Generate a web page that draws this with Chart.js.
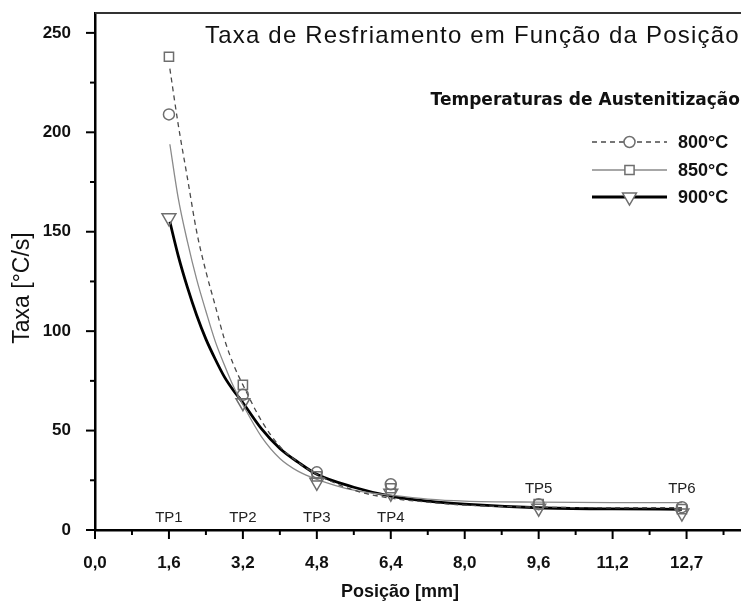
<!DOCTYPE html>
<html>
<head>
<meta charset="utf-8">
<script src="https://cdn.jsdelivr.net/npm/chart.js@4.4.0/dist/chart.umd.min.js"></script>
<style>
  html, body { margin: 0; padding: 0; background: #fff; overflow: hidden; }
  #wrap { width: 770px; height: 605px; }
</style>
</head>
<body>
<div id="wrap"><canvas id="taxaChart" width="770" height="605"></canvas></div>
<script>
// measured points (posição em mm, taxa em °C/s)
const positions = [1.6, 3.2, 4.8, 6.4, 9.6, 12.7];
const tpLabels = ['TP1', 'TP2', 'TP3', 'TP4', 'TP5', 'TP6'];
const tpLabelY = [6, 6, 6, 6, 20.5, 20.5];
const taxa800 = [209, 68, 29, 23, 13, 11.5];
const taxa850 = [238, 73, 27, 21, 13, 10.5];
const taxa900 = [157, 64, 24, 18.5, 11, 8.5];

// fitted curves
const fitX = [1.62, 1.8, 2.0, 2.2, 2.4, 2.6, 2.8, 3.0, 3.2, 3.6, 4.0, 4.4, 4.8, 5.6, 6.4, 7.2, 8.0, 9.6, 11.2, 12.7];
const fit800 = [232, 204, 177, 150, 130, 113, 96, 83, 73, 55, 42, 34, 28, 20, 16, 14, 12.5, 11.5, 11.2, 11.2];
const fit850 = [194, 167, 145, 126, 110, 95, 83, 72, 63, 47, 36, 29.5, 25.5, 20, 17.5, 15.5, 14.5, 14, 13.8, 13.8];
const fit900 = [155, 138, 122, 108, 96, 86, 77, 70, 64, 51, 41, 34, 28, 21.5, 17, 14.5, 13, 11.2, 10.6, 10.4];

const xTickLabels = ['0,0', '1,6', '3,2', '4,8', '6,4', '8,0', '9,6', '11,2', '12,7'];
const seriesNames = ['800°C', '850°C', '900°C'];

const markerColor = '#6e6e6e';

function toPoints(xs, ys) {
    return xs.map((x, i) => ({ x: x, y: ys[i] }));
}

const series = [
    { name: seriesNames[0], values: taxa800, fit: fit800, pointStyle: 'circle', radius: 5.5, rotation: 0,
      lineColor: '#4a4a4a', lineWidth: 1.3, dash: [5, 4] },
    { name: seriesNames[1], values: taxa850, fit: fit850, pointStyle: 'rect', radius: 6.5, rotation: 0,
      lineColor: '#8a8a8a', lineWidth: 1.3, dash: [] },
    { name: seriesNames[2], values: taxa900, fit: fit900, pointStyle: 'triangle', radius: 8, rotation: 180,
      lineColor: '#000', lineWidth: 2.8, dash: [] }
];

const datasets = [];
series.forEach(s => {
    datasets.push({
        label: s.name,
        type: 'scatter',
        data: toPoints(positions, s.values),
        showLine: false,
        pointStyle: s.pointStyle,
        pointRadius: s.radius,
        pointRotation: s.rotation,
        pointBorderColor: markerColor,
        pointBackgroundColor: 'rgba(0,0,0,0)',
        pointBorderWidth: 1.5,
        order: 0
    });
    datasets.push({
        label: s.name + ' ajuste',
        type: 'line',
        data: toPoints(fitX, s.fit),
        borderColor: s.lineColor,
        borderWidth: s.lineWidth,
        borderDash: s.dash,
        pointRadius: 0,
        cubicInterpolationMode: 'monotone',
        fill: false,
        order: 1
    });
});

const decorPlugin = {
    id: 'decor',
    afterDraw(chart) {
        const { ctx, chartArea } = chart;
        const xs = chart.scales.x;
        const ys = chart.scales.y;
        ctx.save();

        // top frame line
        ctx.strokeStyle = '#333';
        ctx.lineWidth = 2;
        ctx.beginPath();
        ctx.moveTo(chartArea.left, chartArea.top);
        ctx.lineTo(chartArea.right, chartArea.top);
        ctx.stroke();

        // tick marks, major and minor
        ctx.strokeStyle = '#000';
        ctx.lineWidth = 2;
        xs.ticks.forEach((t, i) => {
            const px = xs.getPixelForValue(t.value);
            const len = i % 2 === 0 ? 9 : 5;
            ctx.beginPath();
            ctx.moveTo(px, chartArea.bottom);
            ctx.lineTo(px, chartArea.bottom + len);
            ctx.stroke();
        });
        ys.ticks.forEach(t => {
            if (t.value % 25 !== 0) return;
            const py = ys.getPixelForValue(t.value);
            const len = t.value % 50 === 0 ? 9 : 5;
            ctx.beginPath();
            ctx.moveTo(chartArea.left, py);
            ctx.lineTo(chartArea.left - len, py);
            ctx.stroke();
        });

        // title inside plot
        ctx.save();
        ctx.fillStyle = '#111';
        ctx.textBaseline = 'alphabetic';
        ctx.textAlign = 'left';
        ctx.font = '24px Arial, sans-serif';
        ctx.letterSpacing = '1.2px';
        ctx.fillText('Taxa de Resfriamento em Função da Posição', 205, 43);
        ctx.restore();

        // legend
        ctx.fillStyle = '#111';
        ctx.textBaseline = 'middle';
        ctx.textAlign = 'right';
        ctx.font = 'bold 17px "DejaVu Sans", Arial, sans-serif';
        ctx.fillText('Temperaturas de Austenitização', 740, 101);

        const rowY = [142, 170, 197];
        series.forEach((s, i) => {
            const y = rowY[i];
            ctx.save();
            ctx.strokeStyle = s.lineColor;
            ctx.lineWidth = s.lineWidth;
            ctx.setLineDash(s.dash);
            ctx.beginPath();
            ctx.moveTo(592, y);
            ctx.lineTo(667, y);
            ctx.stroke();
            ctx.restore();
            ctx.save();
            ctx.fillStyle = '#fff';
            ctx.strokeStyle = markerColor;
            ctx.lineWidth = 1.5;
            Chart.helpers.drawPoint(ctx, {
                pointStyle: s.pointStyle,
                radius: s.radius,
                rotation: s.rotation,
                borderWidth: 1.5
            }, 629.5, y);
            ctx.restore();
            ctx.fillStyle = '#111';
            ctx.textAlign = 'left';
            ctx.font = 'bold 18px Arial, sans-serif';
            ctx.fillText(s.name, 678, y + 1);
        });

        // TP labels
        ctx.font = '15px Arial, sans-serif';
        ctx.fillStyle = '#222';
        ctx.textAlign = 'center';
        positions.forEach((p, i) => {
            ctx.fillText(tpLabels[i], xs.getPixelForValue(p), ys.getPixelForValue(tpLabelY[i]));
        });

        // axis titles
        ctx.fillStyle = '#111';
        ctx.font = 'bold 18px Arial, sans-serif';
        ctx.fillText('Posição [mm]', 400, 592);
        ctx.translate(23, 288);
        ctx.rotate(-Math.PI / 2);
        ctx.font = '23px Arial, sans-serif';
        ctx.fillText('Taxa [°C/s]', 0, 0);

        ctx.restore();
    }
};

const ctx = document.getElementById('taxaChart');
new Chart(ctx, {
    data: { datasets: datasets },
    options: {
        responsive: false,
        animation: false,
        devicePixelRatio: 1,
        layout: { padding: { top: 13, right: 8, left: 0, bottom: 0 } },
        plugins: {
            legend: { display: false },
            tooltip: { enabled: false }
        },
        scales: {
            x: {
                type: 'linear',
                min: 0,
                max: 14.4,
                afterFit: scale => { scale.height = 75; scale.paddingRight = 0; scale.paddingLeft = 0; },
                grid: { display: false },
                border: { display: true, color: '#000', width: 2.5 },
                ticks: {
                    stepSize: 0.8,
                    padding: 15,
                    maxRotation: 0,
                    autoSkip: false,
                    color: '#111',
                    font: { family: 'Arial, sans-serif', size: 17, weight: 'bold' },
                    callback: function(value, index) {
                        if (index % 2 !== 0) return '';
                        return xTickLabels[index / 2] || '';
                    }
                }
            },
            y: {
                min: 0,
                max: 260,
                afterBuildTicks: scale => {
                    scale.ticks = scale.ticks.filter(t => t.value % 25 === 0);
                },
                afterFit: scale => { scale.width = 95; scale.paddingTop = 0; scale.paddingBottom = 0; },
                grid: { display: false },
                border: { display: true, color: '#000', width: 2.5 },
                ticks: {
                    stepSize: 25,
                    padding: 16,
                    autoSkip: false,
                    color: '#111',
                    font: { family: 'Arial, sans-serif', size: 17, weight: 'bold' },
                    callback: function(value) {
                        return value % 50 === 0 ? value : '';
                    }
                }
            }
        }
    },
    plugins: [decorPlugin]
});
</script>
</body>
</html>
